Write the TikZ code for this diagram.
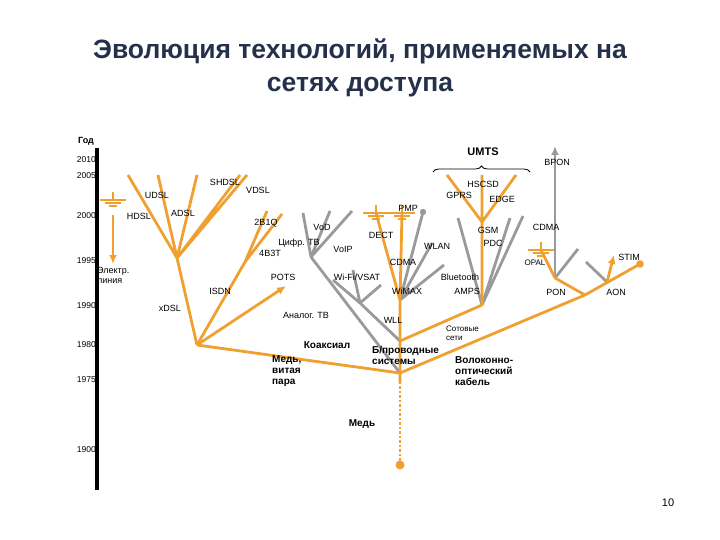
\documentclass[tikz,border=0pt]{standalone}
\usepackage{fontspec}
\setmainfont{Liberation Sans}
\usetikzlibrary{decorations.pathreplacing,arrows.meta}
\definecolor{org}{HTML}{F0A030}
\definecolor{gry}{HTML}{9A9A9A}
\definecolor{ttl}{HTML}{25304A}
\tikzset{
 ob/.style={draw=org,line width=2.8pt},
 gb/.style={draw=gry,line width=2.8pt},
 arr/.style={-{Latex[length=9pt,width=8pt]}},
 lbl/.style={font=\fontsize{9}{10}\selectfont,inner sep=0pt},
 sml/.style={font=\fontsize{8}{9}\selectfont,inner sep=0pt},
 big/.style={font=\fontsize{10}{11}\selectfont\bfseries,inner sep=0pt,align=left},
 yr/.style={font=\fontsize{8.5}{9}\selectfont,anchor=east,inner sep=0pt},
}
\newcommand{\gnd}[2]{\draw[org,line width=1.8pt] (#1,#2-8)--(#1,#2) (#1-13,#2)--(#1+13,#2) (#1-8,#2+3)--(#1+8,#2+3) (#1-4,#2+6)--(#1+4,#2+6);}
\begin{document}
\begin{tikzpicture}[x=1pt,y=-1pt]
\useasboundingbox (0,0) rectangle (720,540);
\node[font=\fontsize{26.5}{33}\selectfont\bfseries,text=ttl,align=center] (title) at (360,68) {Эволюция технологий, применяемых на\\сетях доступа};
\node[font=\fontsize{11}{12}\selectfont] (pg) at (668,503) {10};
% axis
\draw[line width=3.5pt] (97,148)--(97,490);
\node[font=\fontsize{9}{10}\selectfont\bfseries,inner sep=0pt] (god) at (86,141) {Год};
\foreach \y/\t in {160/2010,176/2005,216/2000,261/1995,306/1990,345/1980,380/1975,450/1900}
  \node[yr] at (96,\y) {\t};
% key points
\coordinate (R) at (400,465);
\coordinate (J) at (400,373);
\coordinate (B) at (400,341);
\coordinate (C) at (197,345);
\coordinate (X) at (177,258);
\coordinate (I) at (245,262);
\coordinate (T) at (311,257);
\coordinate (WF) at (360,303);
\coordinate (W) at (400,300);
\coordinate (A) at (482,305);
\coordinate (G) at (482,222);
\coordinate (F) at (585,295);
\coordinate (P) at (555,278);
\coordinate (AO) at (607,282);
% gray branches
\draw[gb] (J)--(T) (T)--(303,213) (T)--(330,211) (T)--(352,211);
\draw[gb] (B)--(WF) (WF)--(333,280) (WF)--(353,270) (WF)--(381,285);
\draw[gb] (W)--(423,212) (W)--(432,243) (W)--(444,265);
\fill[gry] (423,212) circle (3.2);
\draw[gb] (A)--(458,218) (A)--(510,218) (A)--(523,216);
\draw[gb] (P)--(578,249) (586,262)--(AO);
\draw[gb,arr] (P)--(555,146);
% orange
\draw[org,line width=2.8pt,dash pattern=on 2.5pt off 2pt] (R)--(400,383);
\fill[org] (R) circle (4.5);
\draw[ob] (400,383)--(J)--(B)--(W)--(402,213);
\draw[ob] (W)--(376,213);
\gnd{376}{213}\gnd{402}{213}
\draw[ob] (J)--(C) (C)--(X) (X)--(128,175) (X)--(158,175) (X)--(197,175) (X)--(240,175) (X)--(247,175);
\draw[ob] (C)--(I) (I)--(267,211) (I)--(282,214);
\draw[ob,arr] (C)--(286,286);
\draw[ob] (B)--(A) (A)--(G) (G)--(447,175) (G)--(516,175) (G)--(482,175);
\draw[ob] (J)--(F)--(640,264);
\fill[org] (640,264) circle (3.8);
\draw[ob] (F)--(P) (P)--(541,250);
\gnd{541}{250}
\draw[ob,arr] (AO)--(614,255);
\gnd{113}{200}
\draw[ob,arr] (113,215)--(113,264);
\draw[decorate,decoration={brace,amplitude=6pt},line width=0.8pt] (433,172)--(530,172);
% labels
\node[font=\fontsize{11}{12}\selectfont\bfseries] (umts) at (483,152) {UMTS};
\node[lbl] at (557,162) {BPON};
\node[lbl] at (157,195) {UDSL};
\node[lbl] at (139,216) {HDSL};
\node[lbl] at (183,213) {ADSL};
\node[lbl] at (225,182) {SHDSL};
\node[lbl] at (258,190) {VDSL};
\node[lbl] at (266,223) {2B1Q};
\node[lbl] at (270,253) {4B3T};
\node[lbl] at (220,291) {ISDN};
\node[lbl] at (283,277) {POTS};
\node[lbl] at (170,308) {xDSL};
\node[lbl,align=left,anchor=west] at (97,275) {Электр.\\линия};
\node[lbl] at (322,227) {VoD};
\node[lbl] at (299,243) {Цифр. ТВ};
\node[lbl] at (343,249) {VoIP};
\node[lbl] at (357,277) {Wi-Fi/VSAT};
\node[lbl] at (306,315) {Аналог. ТВ};
\node[lbl] at (381,235) {DECT};
\node[lbl] at (408,208) {PMP};
\node[lbl] at (403,262) {CDMA};
\node[lbl] at (407,291) {WiMAX};
\node[lbl] at (393,320) {WLL};
\node[lbl] at (437,246) {WLAN};
\node[lbl] at (460,277) {Bluetooth};
\node[lbl] at (467,291) {AMPS};
\node[lbl] at (459,195) {GPRS};
\node[lbl] at (483,184) {HSCSD};
\node[lbl] at (502,199) {EDGE};
\node[lbl] at (488,230) {GSM};
\node[lbl] at (493,243) {PDC};
\node[lbl] at (546,227) {CDMA};
\node[sml] at (535,263) {OPAL};
\node[lbl] at (629,257) {STIM};
\node[lbl] at (556,292) {PON};
\node[lbl] at (616,292) {AON};
\node[sml,align=left,anchor=west] at (446,333) {Сотовые\\сети};
\node[big] at (327,345) {Коаксиал};
\node[big,anchor=north west] at (272,355) {Медь,\\витая\\пара};
\node[big,anchor=north west] at (372,346) {Б/проводные\\системы};
\node[big,anchor=north west] at (455,356) {Волоконно-\\оптический\\кабель};
\node[big] at (362,424) {Медь};
\end{tikzpicture}
\end{document}
